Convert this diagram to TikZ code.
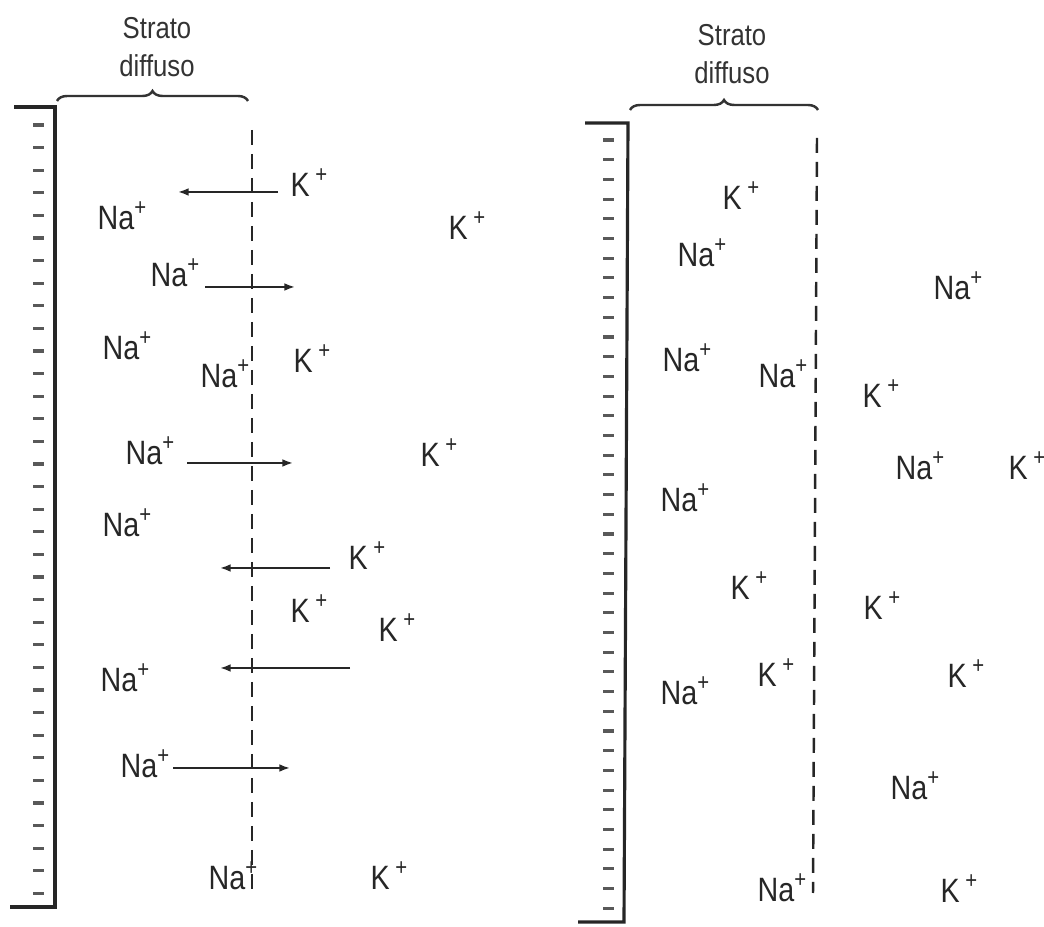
\documentclass[tikz,border=0pt]{standalone}
\usepackage{fontspec}
\setmainfont{Liberation Sans}[FakeStretch=0.85]
\usetikzlibrary{arrows.meta,decorations.pathreplacing}

\newcommand{\plusion}{\raisebox{0.42em}{\fontsize{6.8}{7}\selectfont+}}
\newcommand{\Nap}{Na\plusion}
\newcommand{\Kp}{K\,\plusion}

\tikzset{
  ion/.style={anchor=base west,inner sep=0pt,font=\fontsize{9.6}{10}\selectfont,text=black!85},
  titre/.style={align=center,inner sep=0pt,font=\fontsize{8.6}{11}\selectfont,text=black!80},
  paroi/.style={line width=0.9pt,black!85},
  charge/.style={line width=0.9pt,black!65},
  frontiere/.style={line width=0.7pt,dash pattern=on 1.5mm off 0.9mm,black!85},
  fleche/.style={line width=0.55pt,-{Latex[length=3pt,width=2.2pt]},black!85},
  accolade/.style={line width=0.7pt,black!80,decorate,decoration={brace,amplitude=1mm}}
}

\begin{document}
\begin{tikzpicture}[x=0.1mm,y=-0.1mm]
\useasboundingbox (0,0) rectangle (1044,927);

% Paroi gauche
\draw[paroi] (14,107) -- (55,107) -- (55,907) -- (10,907);
\foreach \i in {0,...,34}
  \draw[charge] (33,{125+22.6*\i}) -- (44,{125+22.6*\i});
\draw[frontiere] (252,130) -- (252,897);
\draw[accolade] (57,101) -- (248,101);
\node[titre] (tg) at (157,47) {Strato\\diffuso};

% Ions à gauche
\node[ion] (g1) at (290,197) {\Kp};
\node[ion] (g2) at (97,230) {\Nap};
\node[ion] (g3) at (448,240) {\Kp};
\node[ion] (g4) at (150,287) {\Nap};
\node[ion] (g5) at (102,360) {\Nap};
\node[ion] (g6) at (200,388) {\Nap};
\node[ion] (g7) at (293,373) {\Kp};
\node[ion] (g8) at (125,465) {\Nap};
\node[ion] (g9) at (420,467) {\Kp};
\node[ion] (g10) at (102,537) {\Nap};
\node[ion] (g11) at (348,570) {\Kp};
\node[ion] (g12) at (290,623) {\Kp};
\node[ion] (g13) at (378,642) {\Kp};
\node[ion] (g14) at (100,692) {\Nap};
\node[ion] (g15) at (120,778) {\Nap};
\node[ion] (g16) at (208,890) {\Nap};
\node[ion] (g17) at (370,890) {\Kp};

% Flèches
\coordinate (f1a) at (278,192); \coordinate (f1b) at (178,192);
\coordinate (f2a) at (205,287); \coordinate (f2b) at (295,287);
\coordinate (f3a) at (187,463); \coordinate (f3b) at (293,463);
\coordinate (f4a) at (330,568); \coordinate (f4b) at (220,568);
\coordinate (f5a) at (350,668); \coordinate (f5b) at (220,668);
\coordinate (f6a) at (173,768); \coordinate (f6b) at (290,768);
\foreach \f in {1,...,6}
  \draw[fleche] (f\f a) -- (f\f b);

% Paroi droite
\draw[paroi] (585,123) -- (628,123) -- (624,922) -- (578,922);
\foreach \i in {0,...,39}
  \draw[charge] (603,{140+19.7*\i}) -- (614,{140+19.7*\i});
\draw[frontiere] (817,138) -- (813,893);
\draw[accolade] (630,110) -- (818,110);
\node[titre] (td) at (732,54) {Strato\\diffuso};

% Ions à droite
\node[ion] (d1) at (722,210) {\Kp};
\node[ion] (d2) at (677,267) {\Nap};
\node[ion] (d3) at (933,300) {\Nap};
\node[ion] (d4) at (662,372) {\Nap};
\node[ion] (d5) at (758,388) {\Nap};
\node[ion] (d6) at (862,408) {\Kp};
\node[ion] (d7) at (895,480) {\Nap};
\node[ion] (d8) at (1008,480) {\Kp};
\node[ion] (d9) at (660,512) {\Nap};
\node[ion] (d10) at (730,600) {\Kp};
\node[ion] (d11) at (863,620) {\Kp};
\node[ion] (d12) at (660,705) {\Nap};
\node[ion] (d13) at (757,687) {\Kp};
\node[ion] (d14) at (947,688) {\Kp};
\node[ion] (d15) at (890,800) {\Nap};
\node[ion] (d16) at (757,902) {\Nap};
\node[ion] (d17) at (940,903) {\Kp};
\end{tikzpicture}
\end{document}
